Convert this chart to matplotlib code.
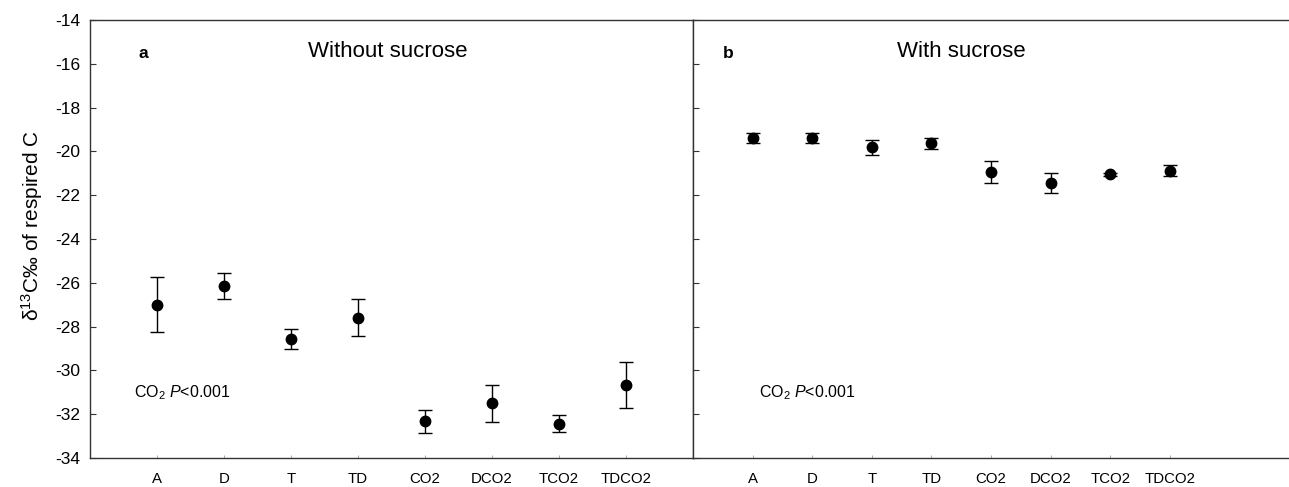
import numpy as np
import matplotlib.pyplot as plt

plt.rcParams['font.family'] = ['Liberation Sans', 'DejaVu Sans']
plt.rcParams['mathtext.fontset'] = 'custom'
plt.rcParams['mathtext.rm'] = 'Liberation Sans'
plt.rcParams['mathtext.it'] = 'Liberation Sans:italic'
plt.rcParams['axes.unicode_minus'] = False

treatments = ['A', 'D', 'T', 'TD', 'CO2', 'DCO2', 'TCO2', 'TDCO2']

# panel a: without sucrose
mean_a = [-27.0, -26.15, -28.55, -27.6, -32.33, -31.5, -32.44, -30.65]
err_a = [1.25, 0.6, 0.45, 0.85, 0.53, 0.84, 0.39, 1.05]

# panel b: with sucrose
mean_b = [-19.38, -19.38, -19.82, -19.63, -20.93, -21.44, -21.05, -20.88]
err_b = [0.22, 0.22, 0.33, 0.26, 0.5, 0.44, 0.08, 0.26]

fig = plt.figure(figsize=(12.89, 4.87), dpi=100)
ax1 = fig.add_axes([90 / 1289, 29 / 487, 603 / 1289, 438 / 487])
ax2 = fig.add_axes([693 / 1289, 29 / 487, 596 / 1289, 438 / 487])

x = np.arange(1, len(treatments) + 1)
spine_col = '#333333'

for ax, m, e, xmax in [(ax1, mean_a, err_a, 9), (ax2, mean_b, err_b, 10)]:
    ax.errorbar(x, m, yerr=e, fmt='o', color='black', ms=7.5,
                ecolor='black', elinewidth=1, capsize=4.7, capthick=1)
    ax.set_xlim(0, xmax)
    ax.set_ylim(-34, -14)
    ax.set_yticks(np.arange(-34, -13, 2))
    ax.set_xticks(x)
    ax.set_xticklabels(treatments, fontsize=10.8)
    ax.tick_params(axis='x', direction='in', length=2, width=0.6, color='#999999', pad=10)
    ax.tick_params(axis='y', direction='in', length=4, width=0.8, color=spine_col,
                   labelsize=12.5, pad=7)
    for s in ax.spines.values():
        s.set_color(spine_col)
        s.set_linewidth(1)

ax2.spines['right'].set_visible(False)
ax2.tick_params(axis='y', labelleft=False)

ax1.set_ylabel('δ$^{13}$C‰ of respired C', fontsize=15)
ax1.yaxis.set_label_coords(-0.075, 0.53)

ax1.text(0.72, -15.55, 'a', fontsize=12.5, fontweight='bold', va='center')
ax1.text(4.44, -15.45, 'Without sucrose', fontsize=16, ha='center', va='center')
ax1.text(0.65, -31.0, r'CO$_2$ $\it{P}$<0.001', fontsize=11.5, va='center')

ax2.text(0.5, -15.55, 'b', fontsize=12.5, fontweight='bold', va='center')
ax2.text(4.51, -15.45, 'With sucrose', fontsize=16, ha='center', va='center')
ax2.text(1.1, -31.0, r'CO$_2$ $\it{P}$<0.001', fontsize=11.5, va='center')

fig.savefig('out.png', dpi=100)
